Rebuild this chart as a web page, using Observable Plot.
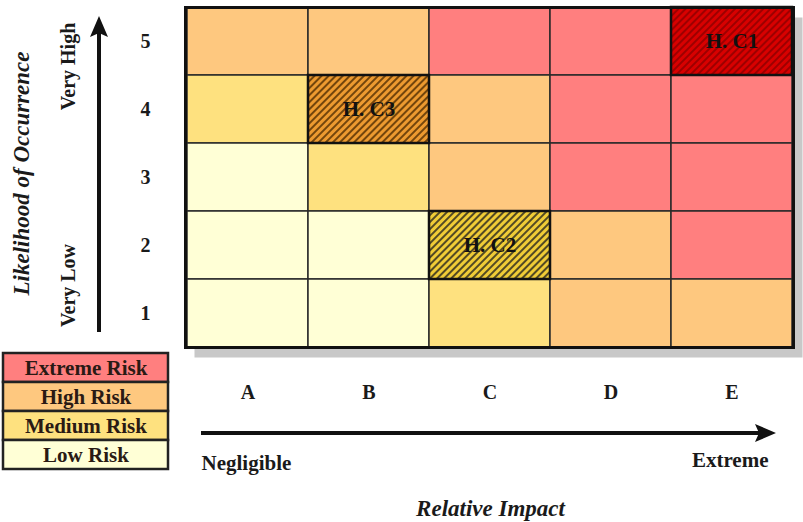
<!DOCTYPE html>
<html><head><meta charset="utf-8">
<script src="https://cdn.jsdelivr.net/npm/d3@7"></script>
<script src="https://cdn.jsdelivr.net/npm/@observablehq/plot@0.6"></script>
<style>
body{margin:0;background:#fff;}
#wrap{position:relative;width:803px;height:522px;overflow:hidden;}
#wrap svg text{font-weight:bold;}
#legend{position:absolute;left:1px;top:350px;}
</style></head><body><div id="wrap"></div>
<script>
// ---- data ----
const impacts = ["A","B","C","D","E"];
const likelihoods = [5,4,3,2,1];
const riskLevels = ["Extreme Risk","High Risk","Medium Risk","Low Risk"];
const riskColors = ["#ff7f7f","#fec87f","#fee17f","#ffffd6"];
// rows: likelihood 5..1 ; columns: impact A..E
const row5 = ["High Risk","High Risk","Extreme Risk","Extreme Risk","Extreme Risk"];
const row4 = ["Medium Risk","High Risk","High Risk","Extreme Risk","Extreme Risk"];
const row3 = ["Low Risk","Medium Risk","High Risk","Extreme Risk","Extreme Risk"];
const row2 = ["Low Risk","Low Risk","Medium Risk","High Risk","Extreme Risk"];
const row1 = ["Low Risk","Low Risk","Medium Risk","High Risk","High Risk"];
const hazardLabels = ["H. C1","H. C2","H. C3"];
const hazardImpacts = ["E","C","B"];
const hazardLikelihoods = [5,2,4];
// hatch styles per risk level: [background, line]
const hatchStyles = {
  "Extreme Risk": ["#d80000","#8a0000"],
  "High Risk": ["#ed9a30","#4a2800"],
  "Medium Risk": ["#f0cc36","#1e1e1e"]
};

const rows = [row5,row4,row3,row2,row1];
const hazards = hazardLabels.map((h,i)=>({label:h, impact:hazardImpacts[i], likelihood:hazardLikelihoods[i]}));
const cells = [];
likelihoods.forEach((l,ri)=>impacts.forEach((im,ci)=>{
  const hz = hazards.find(h=>h.impact===im && h.likelihood===l);
  cells.push({impact:im, likelihood:l, level:rows[ri][ci], hazard: hz ? hz.label : null});
}));
const patId = lvl => "hatch-" + riskLevels.indexOf(lvl);

const font = "'Liberation Serif','Times New Roman',serif";
const ink = "#1a1a1a";
const T = {textAnchor:"middle", lineAnchor:"middle", fontWeight:"bold", fill:ink};

const svg = Plot.plot({
  width:803, height:522,
  marginLeft:185, marginRight:10, marginTop:7, marginBottom:175,
  x:{type:"band", domain:impacts, padding:0, label:null},
  y:{type:"band", domain:likelihoods, padding:0, label:null},
  color:{type:"identity"},
  style:{fontFamily:font, fontSize:"20px", color:ink, background:"white", overflow:"visible"},
  marks:[
    Plot.frame({fill:"#c8c8c8", stroke:"none", dx:9, dy:10}),
    Plot.cell(cells, {x:"impact", y:"likelihood",
      fill: d => d.hazard ? `url(#${patId(d.level)})` : riskColors[riskLevels.indexOf(d.level)],
      stroke:"#2a2a2a", strokeWidth:1.5}),
    Plot.cell(hazards, {x:"impact", y:"likelihood", fill:"none", stroke:"#111", strokeWidth:2.5}),
    Plot.text(hazards, {x:"impact", y:"likelihood", text:"label", fontSize:21, fontWeight:"bold", fill:"#111"}),
    Plot.frame({stroke:"#111", strokeWidth:3}),
    Plot.axisX({tickSize:0, tickPadding:37, fontSize:20, fontWeight:"bold", fill:ink}),
    Plot.axisY({tickSize:0, tickPadding:35, fontSize:20, fontWeight:"bold", fill:ink}),
    Plot.text(["Likelihood of Occurrence"], {...T, text:d=>d, frameAnchor:"left", rotate:-90, dx:-164, dy:-4,
      fontSize:23, fontStyle:"italic"}),
    Plot.text(["Very High"], {...T, text:d=>d, frameAnchor:"top-left", rotate:-90, dx:-117, dy:59, fontSize:20}),
    Plot.text(["Very Low"], {...T, text:d=>d, frameAnchor:"top-left", rotate:-90, dx:-117, dy:278, fontSize:20}),
    Plot.text(["Negligible"], {...T, text:d=>d, frameAnchor:"bottom-left", textAnchor:"start", dx:16, dy:116, fontSize:21}),
    Plot.text(["Extreme"], {...T, text:d=>d, frameAnchor:"bottom-right", textAnchor:"end", dx:-25, dy:113, fontSize:21}),
    Plot.text(["Relative Impact"], {...T, text:d=>d, frameAnchor:"bottom", dx:1, dy:161, fontSize:23, fontStyle:"italic"})
  ]
});

// hatch patterns
const sel = d3.select(svg);
const defs = sel.insert("defs", ":first-child");
Object.entries(hatchStyles).forEach(([lvl,[bg,ln]])=>{
  const p = defs.append("pattern").attr("id", patId(lvl)).attr("patternUnits","userSpaceOnUse")
    .attr("width",5).attr("height",5).attr("patternTransform","rotate(45)");
  p.append("rect").attr("width",5).attr("height",5).attr("fill",bg);
  p.append("line").attr("x1",1).attr("y1",0).attr("x2",1).attr("y2",5).attr("stroke",ln).attr("stroke-width",1.5);
});

// arrows (decorations)
const ar = sel.append("g").attr("fill","#111").attr("stroke","#111");
ar.append("path").attr("d","M99,332V32").attr("stroke-width",4).attr("fill","none");
ar.append("path").attr("d","M99,16L90,37L99,33L108,37Z").attr("stroke","none");
ar.append("path").attr("d","M201,433H760").attr("stroke-width",4).attr("fill","none");
ar.append("path").attr("d","M776,433L755,424L759,433L755,442Z").attr("stroke","none");

document.getElementById("wrap").appendChild(svg);

// legend
const legend = Plot.plot({
  width:169, height:122, margin:2,
  y:{type:"band", domain:riskLevels, padding:0, axis:null},
  color:{type:"identity"},
  style:{fontFamily:font, fontSize:"21px", background:"transparent"},
  marks:[
    Plot.cell(riskLevels, {y:d=>d, fill:(d,i)=>riskColors[i], stroke:"#222", strokeWidth:2.5}),
    Plot.text(riskLevels, {y:d=>d, text:d=>d, fontSize:21, fontWeight:"bold", fill:"#2a1a14"})
  ]
});
legend.id = "legend";
document.getElementById("wrap").appendChild(legend);
</script></body></html>
